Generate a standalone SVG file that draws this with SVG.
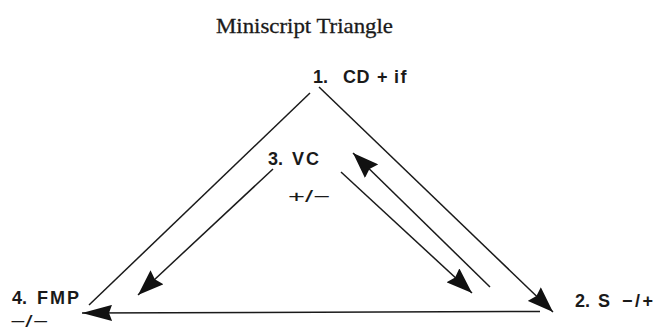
<svg xmlns="http://www.w3.org/2000/svg" width="659" height="331" viewBox="0 0 659 331">
<style>
.lbl{font-family:"Liberation Sans",Arial,sans-serif;font-weight:bold;font-size:18px;fill:#1a1a1a}
.sub{font-family:"Liberation Sans",Arial,sans-serif;font-size:16px;fill:#1a1a1a}
.ttl{font-family:"Liberation Serif","Times New Roman",serif;font-size:21px;fill:#1a1a1a;stroke:#1a1a1a;stroke-width:0.3}
.con{stroke:#1a1a1a;stroke-width:1.5;fill:none}
</style>
<defs>
<marker id="ah" markerUnits="userSpaceOnUse" markerWidth="27" markerHeight="19" refX="26" refY="9.5" orient="auto">
<path d="M0,0 L26,9.5 L0,19 L3,9.5 z" fill="#111"/>
</marker>
<marker id="ahLong" markerUnits="userSpaceOnUse" markerWidth="31" markerHeight="16" refX="30" refY="8" orient="auto">
<path d="M0,0 L30,8 L0,16 L3,8 z" fill="#111"/>
</marker>
</defs>
<g id="title"><text class="ttl" x="216" y="33" textLength="177" lengthAdjust="spacingAndGlyphs">Miniscript Triangle</text></g>
<g id="connectors">
<path class="con" d="M310,93 L89,305"/>
<path class="con" d="M319,87 L553,312" marker-end="url(#ah)"/>
<path class="con" d="M540,311.5 L82,313" marker-end="url(#ahLong)"/>
<path class="con" d="M273,169 L138,295" marker-end="url(#ah)"/>
<path class="con" d="M341,172 L472,293" marker-end="url(#ah)"/>
<path class="con" d="M490,287 L353,153" marker-end="url(#ah)"/>
</g>
<g id="node1"><text class="lbl" y="83"><tspan x="313">1.</tspan><tspan x="343" letter-spacing="0.5">CD</tspan><tspan x="377">+</tspan><tspan x="394" letter-spacing="1.5">if</tspan></text></g>
<g id="node2"><text class="lbl" y="307"><tspan x="575">2.</tspan><tspan x="598">S</tspan><tspan x="622" letter-spacing="2.5">−/+</tspan></text></g>
<g id="node3"><text class="lbl" y="165"><tspan x="268">3.</tspan><tspan x="292" letter-spacing="2">VC</tspan></text>
<text class="sub" x="288" y="202" textLength="42" lengthAdjust="spacingAndGlyphs">+/−</text></g>
<g id="node4"><text class="lbl" y="304"><tspan x="12">4.</tspan><tspan x="37" letter-spacing="2">FMP</tspan></text>
<text class="sub" x="10" y="327" font-size="14" textLength="38" lengthAdjust="spacingAndGlyphs">−/−</text></g>
</svg>
